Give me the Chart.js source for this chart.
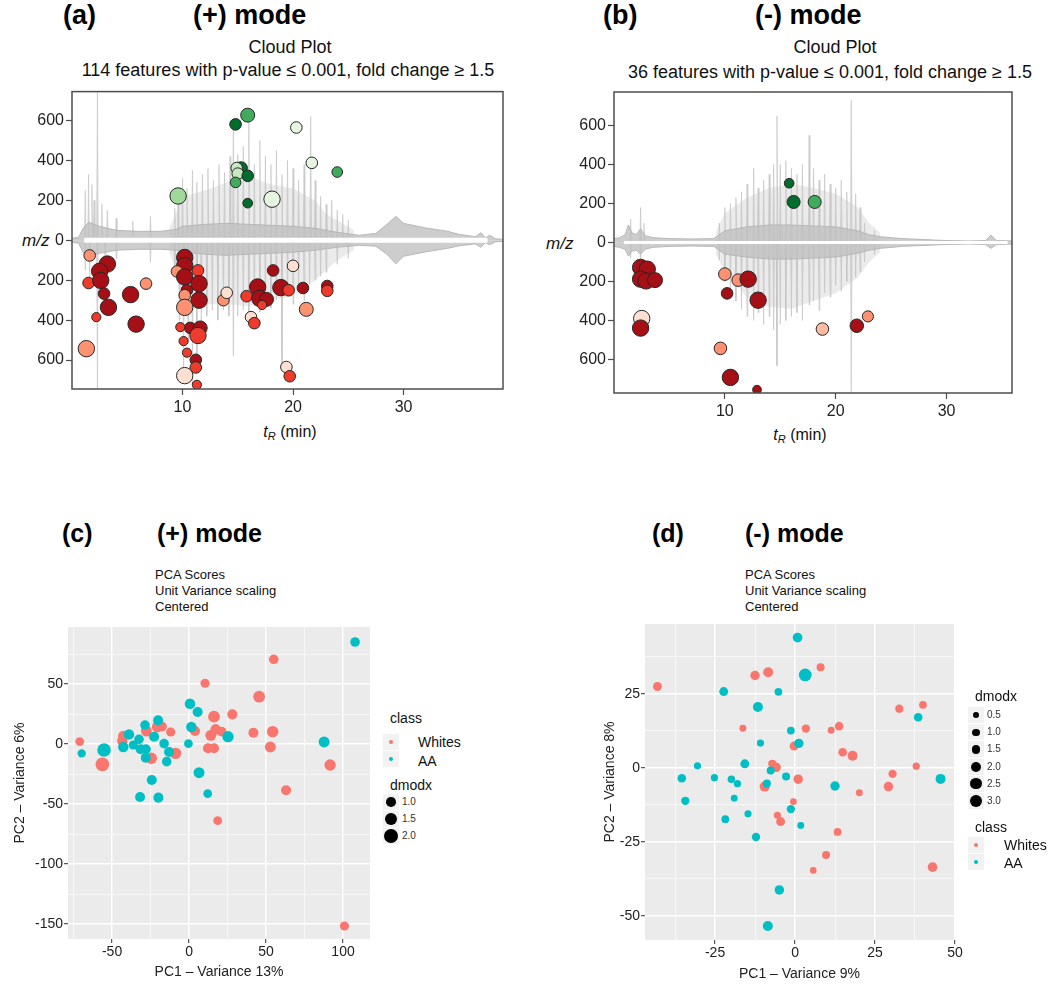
<!DOCTYPE html>
<html>
<head>
<meta charset="utf-8">
<script src="https://cdn.jsdelivr.net/npm/chart.js@4.4.1/dist/chart.umd.min.js"></script>
<style>
body { margin: 0; width: 1050px; height: 985px; background: #fff; position: relative; overflow: hidden;
       font-family: "Liberation Sans", Arial, sans-serif; color: #111; }
canvas { position: absolute; }
.t { position: absolute; white-space: nowrap; line-height: 1; transform: translateY(-50%); }
.c { transform: translate(-50%, -50%); }
.b { font-weight: bold; font-size: 27px; color: #000; }
.sub { font-size: 18px; }
.pca { font-size: 13px; line-height: 16px; transform: none; }
.lg { font-size: 14px; }
.lv { font-size: 10px; color: #333; }
.key { position: absolute; width: 16px; height: 16px; background: #f2f2f2; }
.dot { position: absolute; border-radius: 50%; }
sub { font-size: 11px; vertical-align: -3px; }
</style>
</head>
<body>

<!-- (a) -->
<div class="t b" style="left:63px;top:15px">(a)</div>
<div class="t b" style="left:193px;top:15px">(+) mode</div>
<div class="t c sub" style="left:290px;top:47px">Cloud Plot</div>
<div class="t c sub" style="left:288px;top:70px">114 features with p-value ≤ 0.001, fold change ≥ 1.5</div>
<div class="t" style="left:22px;top:240px;font-size:17px"><i>m/z</i></div>
<div class="t c" style="left:290px;top:433px;font-size:16px"><i>t</i><sub><i>R</i></sub> (min)</div>
<canvas id="chartA" width="520" height="340" style="left:0;top:80px"></canvas>

<!-- (b) -->
<div class="t b" style="left:603px;top:15px">(b)</div>
<div class="t b" style="left:755px;top:15px">(-) mode</div>
<div class="t c sub" style="left:835px;top:47px">Cloud Plot</div>
<div class="t c sub" style="left:830px;top:72px">36 features with p-value ≤ 0.001, fold change ≥ 1.5</div>
<div class="t" style="left:546px;top:243px;font-size:17px"><i>m/z</i></div>
<div class="t c" style="left:800px;top:436px;font-size:16px"><i>t</i><sub><i>R</i></sub> (min)</div>
<canvas id="chartB" width="510" height="340" style="left:540px;top:80px"></canvas>

<!-- (c) -->
<div class="t b" style="left:62px;top:533px;font-size:25px">(c)</div>
<div class="t b" style="left:157px;top:533px;font-size:25px">(+) mode</div>
<div class="t pca" style="left:155px;top:567px">PCA Scores<br>Unit Variance scaling<br>Centered</div>
<canvas id="chartC" width="380" height="385" style="left:0;top:600px"></canvas>

<!-- (d) -->
<div class="t b" style="left:652px;top:533px;font-size:25px">(d)</div>
<div class="t b" style="left:745px;top:533px;font-size:25px">(-) mode</div>
<div class="t pca" style="left:745px;top:567px">PCA Scores<br>Unit Variance scaling<br>Centered</div>
<canvas id="chartD" width="400" height="385" style="left:590px;top:600px"></canvas>

<script>
Chart.defaults.font.family = '"Liberation Sans", Arial, sans-serif';
Chart.defaults.animation = false;

// ---------- (a) cloud plot, (+) mode ----------
const aGreenT     = [14.8, 15.9, 20.3, 21.7, 24, 15.3, 14.9, 15, 15.9, 14.8, 9.6, 15.9, 18.1];
const aGreenMz    = [581, 627, 565, 388, 342, 362, 362, 334, 323, 290, 222, 186, 206];
const aGreenShade = [5, 4, 1, 1, 4, 5, 2, 2, 5, 4, 3, 5, 1];
const aGreenSize  = [2, 2.5, 2, 2, 1.8, 2.2, 2, 2, 2, 1.8, 3, 1.6, 3];

const aRedT = [1.6, 3.2, 2.5, 1.5, 2.6, 2.9, 3.3, 2.2, 1.3, 5.3, 6.7, 5.8, 10.2, 10.2, 9.5, 11.4, 10.2,
               11.5, 10.4, 10.2, 11.5, 10.2, 10.7, 11.6, 11.4, 9.8, 10.1, 10.4, 11.2, 11.2, 10.2, 11.3,
               13.7, 14, 18.2, 20, 16.8, 15.8, 17, 17.6, 17.2, 18.9, 19.6, 20.9, 23.1, 23.1, 21.2, 16.2,
               16.5, 19.4, 19.7];
const aRedMz = [-76, -119, -155, -214, -201, -267, -336, -385, -543, -272, -217, -420, -86, -127, -156,
                -151, -184, -217, -250, -275, -300, -336, -439, -439, -477, -435, -505, -563, -599, -637,
                -678, -724, -300, -263, -151, -128, -234, -280, -291, -296, -324, -237, -250, -239, -229,
                -253, -346, -385, -415, -635, -681];
const aRedShade = [3, 5, 5, 4, 5, 5, 5, 4, 3, 5, 3, 5, 5, 5, 3, 4, 5, 5, 5, 3, 5, 3, 5, 5, 4, 4, 4, 4,
                   5, 4, 1, 4, 3, 1, 5, 1, 5, 4, 5, 5, 4, 5, 4, 5, 5, 4, 3, 1, 4, 1, 4];
const aRedSize  = [2, 3, 3, 2, 3, 2, 3, 1.5, 3, 3, 2, 3, 3, 3, 2, 2, 3, 3, 2, 2, 3, 3, 2, 2.5, 3, 1.5,
                   1.5, 1.5, 2, 2, 3, 1.5, 2, 2, 2, 2, 3, 2, 3, 2.5, 1.5, 3, 2, 2, 2, 2, 2.5, 2, 2, 2, 2];

// gray chromatogram traces (a)
const aBandT    = [0, 0.6, 1, 1.5, 2.5, 4, 6, 8, 9.5, 10, 12, 14, 16, 18, 20, 22, 24, 26, 27.5, 28.5,
                   29.3, 30, 32, 34, 35, 36.5, 37, 37.4, 37.8, 38.3, 39];
const aBandUp   = [10, 15, 60, 90, 70, 50, 45, 45, 55, 70, 80, 85, 80, 75, 70, 60, 40, 25, 35, 80,
                   120, 85, 62, 45, 30, 18, 38, 12, 25, 8, 5];
const aBandDown = [-10, -15, -60, -80, -65, -50, -45, -45, -50, -60, -70, -75, -70, -65, -60, -50, -35,
                   -25, -30, -70, -118, -80, -58, -40, -28, -18, -35, -12, -22, -8, -5];
const aSpikeUpT = [1.2, 1.5, 1.8, 2.0, 2.3, 2.7, 3.2, 4, 5.5, 7.1, 9.3, 9.6, 10, 10.4, 10.9, 11.3, 11.8,
                   12.3, 12.8, 13.3, 13.8, 14.3, 14.6, 15, 15.5, 16, 16.5, 17, 17.5, 18, 18.5, 19, 19.5,
                   20, 20.5, 21, 21.6, 22, 22.5, 23, 23.5, 24, 24.5, 25];
const aSpikeUpH = [250, 330, 280, 200, 740, 180, 150, 110, 95, 120, 160, 230, 310, 260, 350, 290, 330,
                   360, 300, 380, 340, 420, 600, 430, 470, 640, 380, 500, 420, 380, 450, 330, 400,
                   360, 300, 380, 620, 300, 220, 180, 200, 150, 130, 100];
const aSpikeDnT = [1.2, 1.6, 2.3, 3, 4, 7.1, 9.3, 9.7, 10.1, 10.5, 10.9, 11.3, 11.7, 12.2, 12.7, 13.2,
                   13.7, 14.2, 14.6, 15, 15.5, 16, 16.5, 17, 17.5, 18, 18.5, 19, 19.5, 20, 20.5, 21,
                   21.5, 22, 22.5, 23, 24, 25];
const aSpikeDnH = [-150, -200, -740, -120, -90, -110, -180, -400, -700, -500, -720, -600, -450, -380,
                   -350, -400, -350, -380, -580, -380, -350, -400, -330, -360, -300, -340, -300, -650,
                   -280, -320, -250, -300, -220, -200, -180, -160, -120, -90];
const aHazeT    = [8.8, 9.5, 10, 12, 14, 16, 18, 20, 22, 23, 24, 25.5];
const aHazeUp   = [60, 150, 220, 250, 290, 320, 280, 260, 200, 130, 100, 50];
const aHazeDown = [-60, -160, -330, -320, -320, -330, -300, -280, -200, -150, -100, -50];
const aGap      = [1.1, 37.6];

// ---------- (b) cloud plot, (-) mode ----------
const bGreenT     = [15.8, 16.2, 18.1];
const bGreenMz    = [304, 208, 208];
const bGreenShade = [5, 5, 4];
const bGreenSize  = [1.6, 2.3, 2.3];

const bRedT     = [2.4, 3, 2.4, 2.9, 3.7, 2.5, 2.4, 10, 11.2, 12.1, 10.2, 13, 9.6, 10.5, 12.9, 18.8, 21.9, 22.9];
const bRedMz    = [-128, -137, -188, -197, -193, -390, -439, -162, -193, -188, -261, -296, -543, -692,
                   -755, -444, -427, -379];
const bRedShade = [5, 5, 5, 5, 5, 1, 5, 3, 3, 5, 5, 5, 3, 5, 5, 2, 5, 3];
const bRedSize  = [3, 3, 3, 3, 2.7, 3, 3, 2.2, 2.2, 3, 2, 3, 2.2, 3, 1.4, 2.2, 2.4, 1.9];

const bBandT    = [0, 0.5, 1, 1.3, 1.6, 2, 2.4, 2.8, 3.5, 5, 7, 9, 9.5, 10, 12, 14, 16, 18, 20, 22, 23,
                   24, 26, 28, 30, 32, 33.5, 34, 34.5, 36];
const bBandUp   = [20, 25, 40, 90, 50, 40, 70, 35, 25, 20, 18, 20, 40, 60, 80, 90, 90, 85, 80, 60, 40,
                   30, 20, 15, 10, 8, 10, 38, 10, 8];
const bBandDown = [-20, -25, -35, -70, -45, -40, -60, -35, -25, -20, -18, -20, -40, -60, -75, -85, -85,
                   -80, -75, -55, -40, -30, -20, -15, -10, -8, -10, -30, -10, -8];
const bSpikeUpT = [1.5, 2.4, 2.7, 9.5, 10, 10.5, 11, 11.5, 12, 12.6, 13, 13.5, 14, 14.4, 14.7, 15, 15.5,
                   16, 16.5, 17, 17.6, 18, 18.5, 19, 19.5, 20, 20.5, 21, 21.4, 21.8, 22.2, 22.6, 23.5];
const bSpikeUpH = [120, 180, 100, 100, 180, 200, 230, 260, 300, 380, 280, 320, 350, 400, 650, 400, 420,
                   380, 350, 400, 550, 380, 320, 350, 300, 280, 320, 260, 730, 250, 180, 100, 60];
const bSpikeDnT = [1.5, 2.4, 9.5, 10, 10.5, 11, 11.5, 12, 12.6, 13, 13.5, 14, 14.4, 14.7, 15, 15.5, 16,
                   16.5, 17, 17.6, 18, 18.5, 19, 19.5, 20, 20.5, 21, 21.4, 21.8, 22.2, 22.6, 23.5];
const bSpikeDnH = [-80, -150, -90, -200, -250, -300, -340, -380, -400, -360, -420, -380, -450, -632,
                   -420, -400, -380, -360, -400, -320, -300, -350, -260, -280, -220, -250, -200, -770,
                   -180, -150, -100, -60];
const bHazeT    = [9.2, 10, 12, 14, 16, 18, 20, 22, 23, 24];
const bHazeUp   = [60, 150, 230, 280, 300, 280, 250, 180, 100, 50];
const bHazeDown = [-60, -150, -280, -330, -340, -300, -260, -180, -100, -50];
const bGap      = [0.9, 35.5];

const cloudXTicks = [10, 20, 30];
const cloudYTicks = [-600, -400, -200, 0, 200, 400, 600];

const reds   = ["#fee0d2", "#fcbba1", "#fc9272", "#ef3b2c", "#a50f15"];
const greens = ["#e5f5e0", "#c7e9c0", "#a1d99b", "#41ab5d", "#006d2c"];

// ---------- (c) PCA, (+) mode ----------
const cWhitesX = [-71, -56.3, -42.7, -43.3, -27.7, -20.6, -17.5, -24.5, -11.9, -8.7, 10.4, 3.9, 16.2, 14.1,
                  17.3, 21.2, 12.3, 16.2, 28.1, 45.5, 55, 41.8, 54.3, 52.8, 91.6, 63, 18.6, 100.9];
const cWhitesY = [2, -17, 6.7, 2.5, 10.8, 14.2, 14.5, -11.9, 10, -7.8, 50.6, 10.8, 22.8, 7.2, 12.2, 10.3,
                  -3.6, -3.6, 24.7, 39.4, 70.6, 9.4, 10.3, -2.5, -17.5, -38.6, -63.9, -151.7];
const cWhitesD = [0.8, 1.9, 1.2, 1.2, 1.3, 1.3, 1.0, 1.4, 0.9, 1.4, 0.9, 1.1, 1.5, 1.3, 1.2, 1.0, 1.1, 1.1,
                  1.1, 1.5, 1.0, 1.1, 1.4, 1.3, 1.4, 1.1, 0.8, 0.9];
const cAAX = [-69.7, -55.2, -39, -42.7, -36.2, -32.5, -31.4, -28.1, -28.6, -28.1, -22.7, -20.1, -16.2, -13,
              -14.5, -24.2, -31.8, -19.9, -0.4, 0.6, 5.6, 1.5, 6.5, 12.1, 25.3, 87.7, 107.8];
const cAAY = [-7.8, -5, 8, -2.5, -0.8, 3.9, -4.4, -4.4, 15.8, -11.4, 6.1, 19.7, 0.3, -6.7, -14.7, -30,
              -44.2, -44.7, 0.3, 33.6, 26.7, 14.2, -23.9, -41.4, 6.1, 1.7, 85];
const cAAD = [0.7, 1.9, 1.2, 1.2, 0.9, 1.0, 1.1, 1.1, 1.0, 1.1, 1.1, 1.1, 1.0, 1.1, 1.0, 1.1, 1.1, 1.1,
              0.8, 1.2, 1.1, 1.2, 1.3, 0.8, 1.4, 1.3, 1.0];
const cXMajor = [-50, 0, 50, 100];
const cXMinor = [-75, -25, 25, 75];
const cYMajor = [-150, -100, -50, 0, 50];
const cYMinor = [-125, -75, -25, 25, 75];
const cLegendD = [1.0, 1.5, 2.0];

// ---------- (d) PCA, (-) mode ----------
const dWhitesX = [-43, -12.5, -8.4, -16.3, 3.4, -0.3, -7.1, -5.9, -9.5, 1, -0.5, 8, 32.6, 40, 11.3, 13.8,
                  14.9, 18, 37.9, 30.5, 29.2, 20.1, 13.3, -5.5, -4.5, 9.7, 5.7, 43];
const dWhitesY = [27.5, 31.2, 32.3, 13.4, 13.3, 7.4, 1.4, 0.2, -6.3, -3.8, -11.4, 34, 20, 21.3, 12.7, 14.1,
                  5.3, 4.1, 0.6, -2, -6.3, -8.4, -21.6, -16, -18.1, -29.4, -34.6, -33.5];
const dWhitesD = [1.6, 1.8, 2.0, 0.9, 1.4, 1.6, 1.4, 1.8, 2.0, 1.8, 0.8, 1.3, 1.4, 1.2, 0.9, 1.5, 1.5, 2.0,
                  1.0, 1.4, 1.8, 0.9, 1.2, 1.0, 1.6, 1.3, 0.8, 1.9];
const dAAX = [0.8, 3.2, -22.3, -5.2, -11.6, -1.3, 1.2, -10.8, -30.5, -15.7, -7.6, -35.4, -25.2, -19.9, -18,
              -2.8, -8.8, -34.3, -19, -1.3, -21.8, -14.7, 1.8, -12.2, -4.9, -8.5, 38.5, 12.5, 45.5];
const dAAY = [44, 31.4, 25.8, 25.7, 20.6, 12.6, 8.3, 8.4, 0.7, 1.4, -0.9, -3.5, -3.3, -3.8, -5.3, -2.9,
              -5.3, -11.1, -10.2, -13.9, -17.3, -15.5, -19.4, -23.3, -41.2, -53.4, 17.1, -6.1, -3.7];
const dAAD = [1.9, 3.0, 1.6, 1.2, 2.0, 1.2, 1.8, 1.0, 1.0, 1.6, 1.3, 1.5, 1.0, 1.1, 1.0, 1.3, 1.3, 1.4,
              0.9, 1.4, 1.2, 1.0, 0.9, 1.4, 1.8, 2.0, 1.5, 1.8, 2.0];
const dXMajor = [-25, 0, 25, 50];
const dXMinor = [-37.5, -12.5, 12.5, 37.5];
const dYMajor = [-50, -25, 0, 25];
const dYMinor = [-37.5, -12.5, 12.5, 37.5];
const dLegendD = [0.5, 1.0, 1.5, 2.0, 2.5, 3.0];

const whitesColor = "#F8766D";
const aaColor = "#00BFC4";

function cloudRadius(s) { return 1 + 2.4 * s; }
function cRadius(d) { return 2.6 + 2.2 * d; }
function dRadius(d) { return 2.2 + 1.4 * d; }

function pairs(xs, ys) {
    return xs.map((x, i) => ({ x: x, y: ys[i] }));
}

function spikes(ts, hs) {
    const pts = [];
    ts.forEach((t, i) => {
        pts.push({ x: t - 0.07, y: 0 }, { x: t, y: hs[i] }, { x: t + 0.07, y: 0 });
    });
    return pts;
}

function traceLine(data, fillColor, lineColor, width, order) {
    return {
        type: "line", data: data, fill: "origin", backgroundColor: fillColor,
        borderColor: lineColor, borderWidth: width, pointRadius: 0, tension: 0, order: order
    };
}

// box round the plot area
const boxPlugin = {
    id: "box",
    afterDraw(chart) {
        const a = chart.chartArea, ctx = chart.ctx;
        ctx.save();
        ctx.strokeStyle = "#4d4d4d";
        ctx.lineWidth = 1.5;
        ctx.strokeRect(a.left, a.top, a.right - a.left, a.bottom - a.top);
        ctx.restore();
    }
};

// gray panel background
const panelPlugin = {
    id: "panel",
    beforeDraw(chart) {
        const a = chart.chartArea, ctx = chart.ctx;
        ctx.save();
        ctx.fillStyle = "#ebebeb";
        ctx.fillRect(a.left, a.top, a.right - a.left, a.bottom - a.top);
        ctx.restore();
    }
};

function makeCloud(id, d, g) {
    const tickFont = { size: 16 };
    new Chart(document.getElementById(id), {
        type: "scatter",
        data: {
            datasets: [
                {
                    data: pairs(d.greenT, d.greenMz),
                    pointBackgroundColor: d.greenShade.map(s => greens[s - 1]),
                    pointBorderColor: "#262626", pointBorderWidth: 1,
                    pointRadius: d.greenSize.map(cloudRadius), order: 0
                },
                {
                    data: pairs(d.redT, d.redMz),
                    pointBackgroundColor: d.redShade.map(s => reds[s - 1]),
                    pointBorderColor: "#262626", pointBorderWidth: 1,
                    pointRadius: d.redSize.map(cloudRadius), order: 0
                },
                {
                    type: "line", data: [{ x: d.gap[0], y: 0 }, { x: d.gap[1], y: 0 }],
                    borderColor: "#ffffff", borderWidth: g.gapWidth, pointRadius: 0, order: 1
                },
                traceLine(pairs(d.bandT, d.bandUp), "rgba(192,192,192,0.8)", "rgba(180,180,180,0.9)", 1, 2),
                traceLine(pairs(d.bandT, d.bandDown), "rgba(192,192,192,0.8)", "rgba(180,180,180,0.9)", 1, 2),
                traceLine(spikes(d.spikeUpT, d.spikeUpH), "rgba(205,205,205,0.7)", "rgba(195,195,195,0.8)", 0.8, 3),
                traceLine(spikes(d.spikeDnT, d.spikeDnH), "rgba(205,205,205,0.7)", "rgba(195,195,195,0.8)", 0.8, 3),
                traceLine(pairs(d.hazeT, d.hazeUp), "rgba(215,215,215,0.5)", "rgba(0,0,0,0)", 0, 4),
                traceLine(pairs(d.hazeT, d.hazeDown), "rgba(215,215,215,0.5)", "rgba(0,0,0,0)", 0, 4)
            ]
        },
        options: {
            responsive: false,
            events: [],
            layout: { padding: { top: g.padTop, right: g.padRight, left: 0, bottom: 0 } },
            plugins: { legend: { display: false }, tooltip: { enabled: false } },
            scales: {
                x: {
                    type: "linear", min: 0, max: g.xMax,
                    afterBuildTicks: s => { s.ticks = cloudXTicks.map(v => ({ value: v })); },
                    afterFit: s => { s.height = g.xHeight; },
                    grid: { drawOnChartArea: false, tickLength: 6, tickColor: "#4d4d4d", tickWidth: 1.2 },
                    border: { display: false },
                    ticks: { autoSkip: false, maxRotation: 0, padding: 3, color: "#222", font: tickFont }
                },
                y: {
                    type: "linear", min: -g.yLim, max: g.yLim,
                    afterBuildTicks: s => { s.ticks = cloudYTicks.map(v => ({ value: v })); },
                    afterFit: s => { s.width = g.yWidth; },
                    grid: { drawOnChartArea: false, tickLength: 6, tickColor: "#4d4d4d", tickWidth: 1.2 },
                    border: { display: false },
                    ticks: { autoSkip: false, padding: 2, color: "#222", font: tickFont,
                             callback: v => String(Math.abs(v)) }
                }
            }
        },
        plugins: [boxPlugin]
    });
}

function isMajor(ctx, major) {
    return ctx.tick && major.includes(ctx.tick.value);
}

function pcaAxis(min, max, major, minor, title, fit, titlePad) {
    const all = major.concat(minor).sort((a, b) => a - b);
    return {
        type: "linear", min: min, max: max,
        afterBuildTicks: s => { s.ticks = all.map(v => ({ value: v })); },
        afterFit: fit,
        grid: {
            color: "#ffffff",
            lineWidth: c => isMajor(c, major) ? 1.4 : 0.6,
            tickColor: c => isMajor(c, major) ? "#333333" : "rgba(0,0,0,0)",
            tickLength: 4, tickWidth: 1
        },
        border: { display: false },
        ticks: { autoSkip: false, maxRotation: 0, padding: 1, color: "#222", font: { size: 14 },
                 callback: v => major.includes(v) ? String(v) : "" },
        title: { display: true, text: title, color: "#222", font: { size: 14 }, padding: titlePad }
    };
}

function makePCA(id, d, g) {
    new Chart(document.getElementById(id), {
        type: "scatter",
        data: {
            datasets: [
                { label: "AA", data: pairs(d.aaX, d.aaY), pointBackgroundColor: aaColor,
                  pointBorderWidth: 0, pointRadius: d.aaD.map(d.radius), order: 0 },
                { label: "Whites", data: pairs(d.whX, d.whY), pointBackgroundColor: whitesColor,
                  pointBorderWidth: 0, pointRadius: d.whD.map(d.radius), order: 1 }
            ]
        },
        options: {
            responsive: false,
            events: [],
            layout: { padding: { top: g.padTop, right: g.padRight, left: 0, bottom: 0 } },
            plugins: { legend: { display: false }, tooltip: { enabled: false } },
            scales: {
                x: pcaAxis(g.xMin, g.xMax, d.xMajor, d.xMinor, d.xTitle,
                           s => { s.height = g.xHeight; }, { top: 0, bottom: g.xTitlePad }),
                y: pcaAxis(g.yMin, g.yMax, d.yMajor, d.yMinor, d.yTitle,
                           s => { s.width = g.yWidth; }, { top: 12, bottom: 0 })
            }
        },
        plugins: [panelPlugin]
    });
}

makeCloud("chartA", {
    greenT: aGreenT, greenMz: aGreenMz, greenShade: aGreenShade, greenSize: aGreenSize,
    redT: aRedT, redMz: aRedMz, redShade: aRedShade, redSize: aRedSize,
    bandT: aBandT, bandUp: aBandUp, bandDown: aBandDown,
    spikeUpT: aSpikeUpT, spikeUpH: aSpikeUpH, spikeDnT: aSpikeDnT, spikeDnH: aSpikeDnH,
    hazeT: aHazeT, hazeUp: aHazeUp, hazeDown: aHazeDown, gap: aGap
}, { xMax: 39, yLim: 745, padTop: 9, padRight: 17, yWidth: 72, xHeight: 31, gapWidth: 5 });

makeCloud("chartB", {
    greenT: bGreenT, greenMz: bGreenMz, greenShade: bGreenShade, greenSize: bGreenSize,
    redT: bRedT, redMz: bRedMz, redShade: bRedShade, redSize: bRedSize,
    bandT: bBandT, bandUp: bBandUp, bandDown: bBandDown,
    spikeUpT: bSpikeUpT, spikeUpH: bSpikeUpH, spikeDnT: bSpikeDnT, spikeDnH: bSpikeDnH,
    hazeT: bHazeT, hazeUp: bHazeUp, hazeDown: bHazeDown, gap: bGap
}, { xMax: 35.9, yLim: 772, padTop: 12, padRight: 38, yWidth: 74, xHeight: 27, gapWidth: 3 });

makePCA("chartC", {
    whX: cWhitesX, whY: cWhitesY, whD: cWhitesD, aaX: cAAX, aaY: cAAY, aaD: cAAD, radius: cRadius,
    xMajor: cXMajor, xMinor: cXMinor, yMajor: cYMajor, yMinor: cYMinor,
    xTitle: "PC1 – Variance 13%", yTitle: "PC2 – Variance 6%"
}, { xMin: -78.6, xMax: 117.5, yMin: -162.5, yMax: 97.5, padTop: 27, padRight: 10,
     yWidth: 68, xHeight: 46, xTitlePad: 4 });

makePCA("chartD", {
    whX: dWhitesX, whY: dWhitesY, whD: dWhitesD, aaX: dAAX, aaY: dAAY, aaD: dAAD, radius: dRadius,
    xMajor: dXMajor, xMinor: dXMinor, yMajor: dYMajor, yMinor: dYMinor,
    xTitle: "PC1 – Variance 9%", yTitle: "PC2 – Variance 8%"
}, { xMin: -46.9, xMax: 49.7, yMin: -58.1, yMax: 48.6, padTop: 24, padRight: 36,
     yWidth: 55, xHeight: 45, xTitlePad: 2 });

// ---------- ggplot-style legends ----------
function addText(text, x, y, cls) {
    const el = document.createElement("div");
    el.className = "t " + cls;
    el.style.left = x + "px";
    el.style.top = y + "px";
    el.textContent = text;
    document.body.appendChild(el);
}

function addKey(cx, cy, r, color, box) {
    if (box) {
        const k = document.createElement("div");
        k.className = "key";
        k.style.left = (cx - 8) + "px";
        k.style.top = (cy - 8) + "px";
        document.body.appendChild(k);
    }
    const dot = document.createElement("div");
    dot.className = "dot";
    dot.style.left = (cx - r) + "px";
    dot.style.top = (cy - r) + "px";
    dot.style.width = dot.style.height = (2 * r) + "px";
    dot.style.background = color;
    document.body.appendChild(dot);
}

// (c) legend: class then dmodx
addText("class", 390, 718, "lg");
addKey(391, 742, 2, whitesColor, true);
addText("Whites", 418, 742, "lg");
addKey(391, 759, 2, aaColor, true);
addText("AA", 418, 761, "lg");
addText("dmodx", 390, 785, "lg");
cLegendD.forEach((v, i) => {
    const y = 802 + 17 * i;
    addKey(391, y, cRadius(v), "#000", true);
    addText(v.toFixed(1), 402, y, "lv");
});

// (d) legend: dmodx then class
addText("dmodx", 975, 696, "lg");
dLegendD.forEach((v, i) => {
    const y = 715 + 17.2 * i;
    addKey(976, y, dRadius(v), "#000", true);
    addText(v.toFixed(1), 987, y, "lv");
});
addText("class", 975, 827, "lg");
addKey(976, 845, 2, whitesColor, true);
addText("Whites", 1004, 845, "lg");
addKey(976, 862, 2, aaColor, true);
addText("AA", 1004, 863, "lg");
</script>
</body>
</html>
